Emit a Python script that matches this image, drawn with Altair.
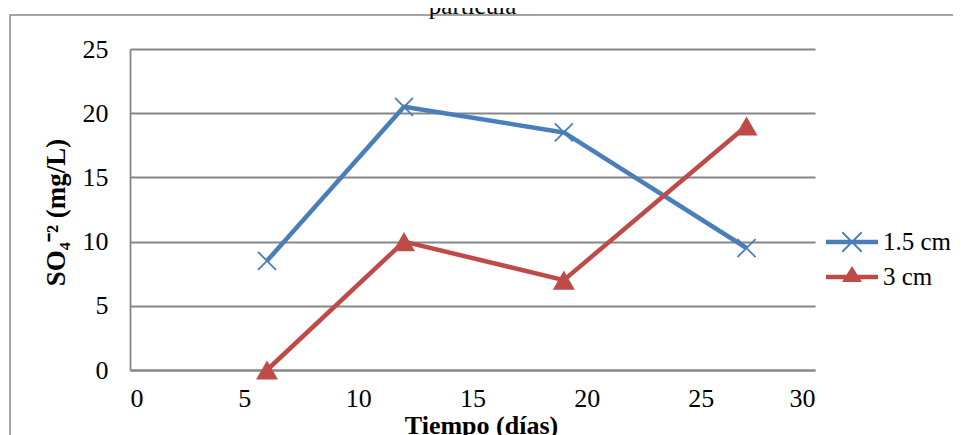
import altair as alt
import pandas as pd

# ---- data ----
dias = [6, 12, 19, 27]
so4_15cm = [8.5, 20.5, 18.5, 9.5]
so4_3cm = [0, 10, 7, 19]
series = ["1.5 cm", "3 cm"]
colores = ["#4A7EBB", "#BE4B48"]
x_ticks = [0, 5, 10, 15, 20, 25, 30]
y_ticks = [0, 5, 10, 15, 20, 25]

df = pd.DataFrame({
    "dias": dias + dias,
    "so4": so4_15cm + so4_3cm,
    "serie": [series[0]] * len(dias) + [series[1]] * len(dias),
})

FONT = "Liberation Serif"
GRAY = "#868686"
W, H = 685, 321

cscale = alt.Scale(domain=series, range=colores)

x_enc = alt.X(
    "dias:Q",
    scale=alt.Scale(domain=[0, 30], nice=False),
    axis=alt.Axis(
        values=x_ticks, grid=False, ticks=False, domain=True,
        domainColor=GRAY, domainWidth=2,
        labelFont=FONT, labelFontSize=26, labelColor="black",
        labelPadding=15, labelBaseline="top",
        title="Tiempo (días)", titleFont=FONT, titleFontSize=26,
        titleFontWeight="bold", titleColor="black",
        titleBaseline="alphabetic", titleY=63, titleX=351,
    ),
)
y_enc = alt.Y(
    "so4:Q",
    scale=alt.Scale(domain=[0, 25], nice=False),
    axis=alt.Axis(
        values=y_ticks, grid=True, gridColor=GRAY, gridWidth=1.8,
        ticks=False, domain=True, domainColor=GRAY, domainWidth=1.8,
        labelFont=FONT, labelFontSize=26, labelColor="black",
        labelPadding=22,
        title="SO₄⁻² (mg/L)", titleFont=FONT, titleFontSize=27,
        titleFontWeight="bold", titleColor="black",
        titleAngle=270, titleAlign="center", titleBaseline="alphabetic",
        titleX=-66, titleY=163,
    ),
)

base = alt.Chart(df)

border = alt.Chart(pd.DataFrame({"k": [0]})).mark_rect(
    filled=False, stroke=GRAY, strokeWidth=1.5, clip=False
).encode(
    x=alt.value(-120), x2=alt.value(W + 160),
    y=alt.value(-34), y2=alt.value(H + 90),
)

layers = [border]
for s, c in zip(series, colores):
    layers.append(
        base.transform_filter(alt.datum.serie == s)
        .mark_line(strokeWidth=4.5, strokeJoin="round", color=c)
        .encode(x=x_enc, y=y_enc)
    )

layers.append(
    base.transform_filter(alt.datum.serie == series[0]).mark_point(
        shape="M-1,-1L1,1M-1,1L1,-1", size=324, filled=False,
        strokeWidth=1.8, opacity=1, color=colores[0]
    ).encode(x="dias:Q", y="so4:Q")
)
layers.append(
    base.transform_filter(alt.datum.serie == series[1]).mark_point(
        shape="triangle-up", size=484, filled=True, opacity=1, color=colores[1]
    ).encode(x="dias:Q", y="so4:Q")
)

path_x = ("M-2,-0.173H2V0.173H-2Z "
          "M-0.7,-0.8L0.8,0.7L0.7,0.8L-0.8,-0.7Z "
          "M-0.8,0.7L0.7,-0.8L0.8,-0.7L-0.7,0.8Z")
path_tri = "M-2,-0.173H2V0.173H-2Z M0,-0.85L0.77,0.38L-0.77,0.38Z"

leg = alt.Legend(
    orient="none", legendX=709, legendY=180, title=None, padding=0,
    rowPadding=9, labelOffset=18, symbolSize=676, symbolStrokeWidth=0,
    symbolOpacity=1, labelFont=FONT, labelFontSize=25, labelColor="black",
)
layers.append(
    base.transform_filter("false").mark_point(filled=True).encode(
        x="dias:Q", y="so4:Q",
        color=alt.Color("serie:N", scale=cscale, legend=leg),
        shape=alt.Shape("serie:N",
                        scale=alt.Scale(domain=series, range=[path_x, path_tri]),
                        legend=leg),
    )
)

chart = alt.layer(*layers).properties(
    width=W, height=H,
    title=alt.TitleParams(
        "partícula", font=FONT, fontSize=25, fontWeight="normal", color="black",
        anchor="middle", frame="group", baseline="alphabetic", offset=0, dy=25,
    ),
    autosize=alt.AutoSizeParams(type="none"),
    padding={"left": 122, "top": 41, "right": 138, "bottom": 65},
    background="white",
).configure_view(stroke=None)

chart.save("out.html", embed_options={"renderer": "svg", "actions": False})
